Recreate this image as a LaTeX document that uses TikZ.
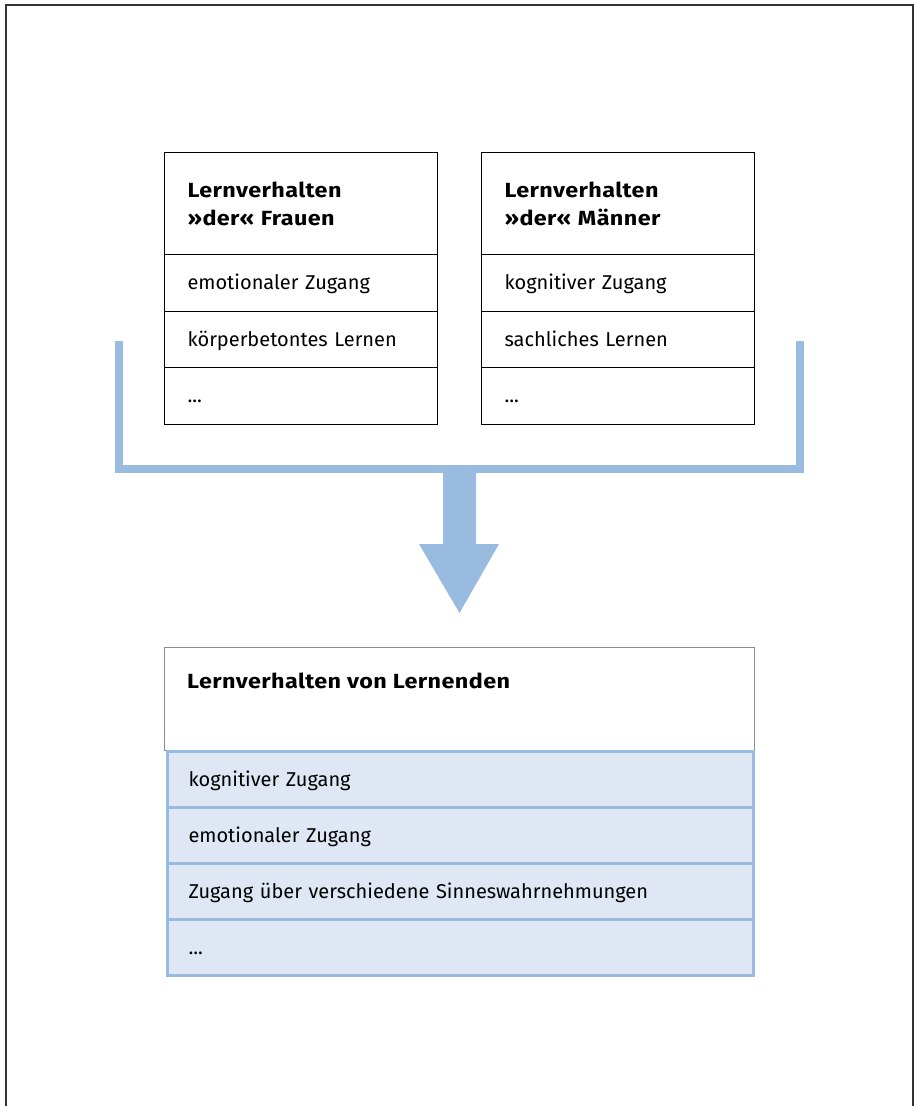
\documentclass[tikz,border=0pt]{standalone}
\usepackage{fontspec}
\setmainfont{Fira Sans}
\newfontfamily\headfont[FakeStretch=1.14, LetterSpace=2]{Fira Sans Bold}
\definecolor{bblue}{RGB}{153,187,224}
\definecolor{lblue}{RGB}{222,231,243}
\begin{document}
\begin{tikzpicture}[x=1pt,y=-1pt,
  cell/.style={draw=black, line width=1pt, minimum width=273pt, minimum height=56.5pt,
     inner xsep=23pt, inner ysep=0pt, text width=227pt, align=left, anchor=north west,
     text height=16pt, text depth=2pt,
     font=\fontsize{20}{28}\selectfont},
  headcell/.style={cell, minimum height=102pt, text height=, text depth=, font=\fontsize{20.5}{28}\selectfont\headfont},
  bluecell/.style={draw=bblue, fill=lblue, line width=3pt, minimum width=586pt, minimum height=56pt,
     inner xsep=21.5pt, inner ysep=0pt, text width=543pt, align=left, anchor=north west,
     text height=16pt, text depth=2pt,
     font=\fontsize{20}{28}\selectfont},
  bracket/.style={draw=bblue, line width=8pt, line join=miter}
]
\useasboundingbox (0,0) rectangle (914,1106);
% frame
\draw[line width=1.5pt, black!80] (6,1106) -- (6,5) -- (913,5) -- (913,1106);

% left column
\node[headcell] (fh) at (164,152) {Lernverhalten\\»der« Frauen};
\node[cell] (f1) at (164,254) {emotionaler Zugang};
\node[cell] (f2) at (164,310.5) {körperbetontes Lernen};
\node[cell] (f3) at (164,367) {...};

% right column
\node[headcell] (mh) at (481,152) {Lernverhalten\\»der« Männer};
\node[cell] (m1) at (481,254) {kognitiver Zugang};
\node[cell] (m2) at (481,310.5) {sachliches Lernen};
\node[cell] (m3) at (481,367) {...};

% bracket and arrow
\coordinate (bl) at (119,341);
\coordinate (br) at (800,341);
\draw[bracket] (bl) -- (119,469) -- (800,469) -- (br);
\fill[bblue] (443,465) -- (476,465) -- (476,544) -- (499,544) -- (459.5,613) -- (419,544) -- (443,544) -- cycle;

% bottom box
\node[draw=black!45, line width=1pt, minimum width=590pt, minimum height=103pt, anchor=north west] (lh) at (164,647) {};
\node[anchor=west, inner sep=0pt, font=\fontsize{20.5}{28}\selectfont\headfont] (lht) at (187,681) {Lernverhalten von Lernenden};
\node[bluecell] (l1) at (165.5,750) {kognitiver Zugang};
\node[bluecell] (l2) at (165.5,806) {emotionaler Zugang};
\node[bluecell] (l3) at (165.5,862) {Zugang über verschiedene Sinneswahrnehmungen};
\node[bluecell] (l4) at (165.5,918) {...};
\end{tikzpicture}
\end{document}
